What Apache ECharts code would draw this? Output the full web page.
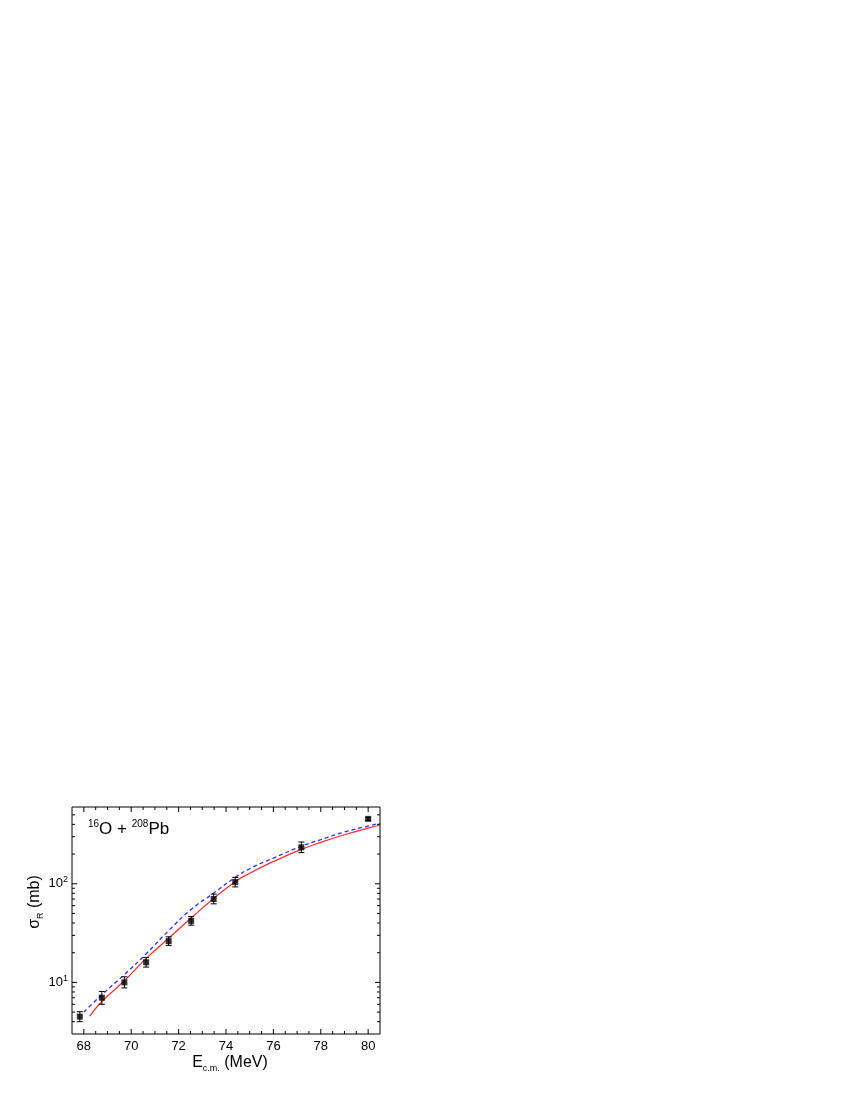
<!DOCTYPE html>
<html>
<head>
<meta charset="utf-8">
<script src="https://cdn.jsdelivr.net/npm/echarts@6/dist/echarts.min.js"></script>
<style>
html,body{margin:0;padding:0;background:#fff;}
#chart{width:850px;height:1100px;}
</style>
</head>
<body>
<div id="chart"></div>
<script>
// measured reaction cross sections
var expE = [67.83, 68.76, 69.71, 70.63, 71.58, 72.53, 73.48, 74.39, 77.18, 80.0];
var expSigma = [4.5, 7.0, 10.0, 16.0, 26.2, 42.0, 70.0, 104, 234, 455];
var expLow = [4.0, 6.0, 8.8, 14.3, 23.7, 38.0, 62.6, 93, 207, 440];
var expHigh = [5.05, 8.1, 11.4, 17.9, 29.0, 46.5, 78.5, 116, 265, 470];

// red solid calculation
var redE = [68.25, 68.76, 69.71, 70.63, 71.58, 72.53, 73.48, 74.39, 75.0, 76.0, 77.18, 78.0, 79.0, 80.0, 80.5];
var redSigma = [4.55, 6.4, 10.4, 17.5, 28, 45, 71, 105, 128, 168, 223, 263, 314, 367, 392];

// blue dashed calculation
var blueE = [68.0, 68.76, 69.71, 70.63, 71.58, 72.53, 73.48, 74.39, 75.0, 76.0, 77.18, 78.0, 79.0, 80.0, 80.5];
var blueSigma = [5.0, 7.5, 12.0, 19.5, 33.5, 55, 80.5, 116, 142, 182, 240, 280, 335, 385, 410];

// axis ticks
var xMajor = [68, 70, 72, 74, 76, 78, 80];
var xMinor = [68.5, 69, 69.5, 70.5, 71, 71.5, 72.5, 73, 73.5, 74.5, 75, 75.5, 76.5, 77, 77.5, 78.5, 79, 79.5];
var yMajor = [10, 100];
var yMinor = [4, 5, 6, 7, 8, 9, 20, 30, 40, 50, 60, 70, 80, 90, 200, 300, 400, 500];

var X_MIN = 67.5, X_MAX = 80.5;
var Y_MIN = 3, Y_MAX = 600;
var FONT = 'Liberation Sans, Arial, sans-serif';

function zip(a, b) {
  var r = [];
  for (var i = 0; i < a.length; i++) r.push([a[i], b[i]]);
  return r;
}

function tickSeries(vals, dim, len) {
  return {
    type: 'custom',
    silent: true,
    z: 5,
    data: vals.map(function (v) { return dim === 'x' ? [v, Y_MIN] : [X_MIN, v]; }),
    renderItem: function (params, api) {
      var st = { stroke: '#000', lineWidth: 1 };
      if (dim === 'x') {
        var v = api.value(0);
        var b = api.coord([v, Y_MIN]), t = api.coord([v, Y_MAX]);
        return { type: 'group', children: [
          { type: 'line', shape: { x1: b[0], y1: b[1], x2: b[0], y2: b[1] - len }, style: st },
          { type: 'line', shape: { x1: t[0], y1: t[1], x2: t[0], y2: t[1] + len }, style: st }
        ] };
      }
      var w = api.value(1);
      var l = api.coord([X_MIN, w]), r = api.coord([X_MAX, w]);
      return { type: 'group', children: [
        { type: 'line', shape: { x1: l[0], y1: l[1], x2: l[0] + len, y2: l[1] }, style: st },
        { type: 'line', shape: { x1: r[0], y1: r[1], x2: r[0] - len, y2: r[1] }, style: st }
      ] };
    }
  };
}

var errData = [];
for (var i = 0; i < expE.length; i++) errData.push([expE[i], expLow[i], expHigh[i]]);

var chart = echarts.init(document.getElementById('chart'));
chart.setOption({
  animation: false,
  backgroundColor: '#fff',
  grid: { left: 72, top: 807, width: 308, height: 227, show: true, borderColor: '#000', borderWidth: 1, backgroundColor: 'transparent' },
  xAxis: {
    type: 'value', min: X_MIN, max: X_MAX, interval: 0.5,
    axisLine: { show: false }, axisTick: { show: false }, splitLine: { show: false },
    axisLabel: {
      margin: 6, fontSize: 13, color: '#000', fontFamily: FONT,
      formatter: function (v) {
        var r = Math.round(v);
        return (Math.abs(v - r) < 1e-6 && r % 2 === 0) ? String(r) : '';
      }
    }
  },
  yAxis: {
    type: 'log', logBase: 10, min: Y_MIN, max: Y_MAX,
    axisLine: { show: false }, axisTick: { show: false }, splitLine: { show: false },
    axisLabel: {
      margin: 4, color: '#000', fontFamily: FONT,
      formatter: function (v) {
        var e = Math.log10(v), r = Math.round(e);
        return Math.abs(e - r) < 1e-6 ? '{b|10}{s|' + r + '}' : '';
      },
      rich: {
        b: { fontSize: 13, lineHeight: 17, fontFamily: FONT, color: '#000' },
        s: { fontSize: 9, lineHeight: 10, verticalAlign: 'top', fontFamily: FONT, color: '#000' }
      }
    }
  },
  graphic: [
    {
      type: 'text', x: 88, y: 829,
      style: {
        text: '{s|16}{a|O + }{s|208}{a|Pb}', verticalAlign: 'middle', align: 'left',
        rich: {
          a: { fontSize: 17, lineHeight: 20, fontFamily: FONT, fill: '#000' },
          s: { fontSize: 10, lineHeight: 11, verticalAlign: 'top', fontFamily: FONT, fill: '#000' }
        }
      }
    },
    {
      type: 'text', x: 230, y: 1063,
      style: {
        text: '{a|E}{sub|c.m.}{a| (MeV)}', verticalAlign: 'middle', align: 'center',
        rich: {
          a: { fontSize: 16, lineHeight: 20, fontFamily: FONT, fill: '#000' },
          sub: { fontSize: 9, lineHeight: 10, verticalAlign: 'bottom', fontFamily: FONT, fill: '#000' }
        }
      }
    },
    {
      type: 'text', x: 35, y: 902, rotation: Math.PI / 2,
      style: {
        text: '{a|σ}{sub|R}{a| (mb)}', verticalAlign: 'middle', align: 'center',
        rich: {
          a: { fontSize: 16, lineHeight: 20, fontFamily: FONT, fill: '#000' },
          sub: { fontSize: 9, lineHeight: 10, verticalAlign: 'bottom', fontFamily: FONT, fill: '#000' }
        }
      }
    }
  ],
  series: [
    tickSeries(xMajor, 'x', 5),
    tickSeries(xMinor, 'x', 3),
    tickSeries(yMajor, 'y', 5),
    tickSeries(yMinor, 'y', 3),
    {
      type: 'line', data: zip(redE, redSigma), smooth: true, showSymbol: false, silent: true, z: 2,
      lineStyle: { color: '#ff2a2a', width: 1.2 }
    },
    {
      type: 'line', data: zip(blueE, blueSigma), smooth: true, showSymbol: false, silent: true, z: 3,
      lineStyle: { color: '#2a2aff', width: 1.3, type: [4, 3] }
    },
    {
      type: 'custom', data: errData, z: 4, silent: true,
      renderItem: function (params, api) {
        var lo = api.coord([api.value(0), api.value(1)]);
        var hi = api.coord([api.value(0), api.value(2)]);
        var st = { stroke: '#000', lineWidth: 1 };
        var c = 3;
        return { type: 'group', children: [
          { type: 'line', shape: { x1: lo[0], y1: lo[1], x2: hi[0], y2: hi[1] }, style: st },
          { type: 'line', shape: { x1: lo[0] - c, y1: lo[1], x2: lo[0] + c, y2: lo[1] }, style: st },
          { type: 'line', shape: { x1: hi[0] - c, y1: hi[1], x2: hi[0] + c, y2: hi[1] }, style: st }
        ] };
      }
    },
    {
      type: 'scatter', data: zip(expE, expSigma), symbol: 'rect', symbolSize: 6, z: 6, silent: true,
      itemStyle: { color: '#000' }
    }
  ]
});
</script>
</body>
</html>
